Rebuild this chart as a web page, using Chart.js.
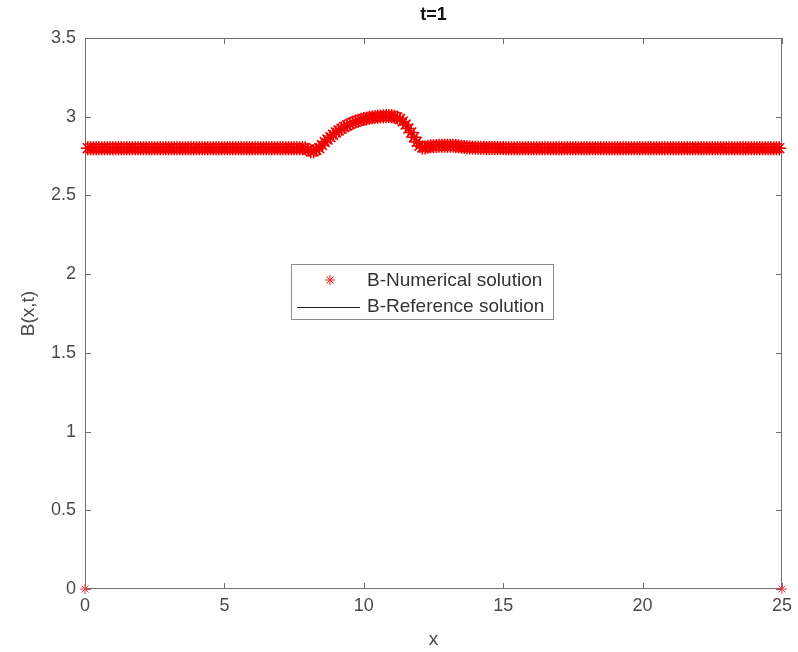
<!DOCTYPE html>
<html lang="en">
<head>
<meta charset="UTF-8">
<title>B(x,t) at t=1</title>
<style>
  html, body { margin: 0; padding: 0; background: #fff; }
  #wrap { width: 798px; height: 652px; }
</style>
</head>
<body>
<div id="wrap"><canvas id="myChart" width="798" height="652"></canvas></div>

<script src="https://cdn.jsdelivr.net/npm/chart.js"></script>
<script>
// grid spacing of the solution, x = 0 .. 25
const dx = 0.1;

// B-Numerical solution, one value per grid point (251 points)
const bNumerical = [
  0, 2.8, 2.8, 2.8, 2.8, 2.8, 2.8, 2.8, 2.8, 2.8,
  2.8, 2.8, 2.8, 2.8, 2.8, 2.8, 2.8, 2.8, 2.8, 2.8,
  2.8, 2.8, 2.8, 2.8, 2.8, 2.8, 2.8, 2.8, 2.8, 2.8,
  2.8, 2.8, 2.8, 2.8, 2.8, 2.8, 2.8, 2.8, 2.8, 2.8,
  2.8, 2.8, 2.8, 2.8, 2.8, 2.8, 2.8, 2.8, 2.8, 2.8,
  2.8, 2.8, 2.8, 2.8, 2.8, 2.8, 2.8, 2.8, 2.8, 2.8,
  2.8, 2.8, 2.8, 2.8, 2.8, 2.8, 2.8, 2.8, 2.8, 2.8,
  2.8, 2.8, 2.8, 2.8, 2.8, 2.8, 2.8, 2.8, 2.8, 2.8,
  2.79, 2.78, 2.78, 2.79, 2.80, 2.82, 2.84, 2.855, 2.87, 2.885,
  2.90, 2.912, 2.924, 2.935, 2.945, 2.954, 2.962, 2.969, 2.975, 2.98,
  2.985, 2.989, 2.993, 2.996, 2.998, 3.0, 3.002, 3.003, 3.004, 3.004,
  3.003, 3.0, 2.995, 2.985, 2.97, 2.95, 2.925, 2.9, 2.87, 2.84,
  2.815, 2.805, 2.805, 2.81, 2.812, 2.813, 2.814, 2.815, 2.815, 2.816,
  2.816, 2.816, 2.815, 2.814, 2.812, 2.81, 2.808, 2.806, 2.805, 2.804,
  2.803, 2.803, 2.803, 2.803, 2.802, 2.802, 2.802, 2.802, 2.801, 2.801,
  2.801, 2.8, 2.8, 2.8, 2.8, 2.8, 2.8, 2.8, 2.8, 2.8,
  2.8, 2.8, 2.8, 2.8, 2.8, 2.8, 2.8, 2.8, 2.8, 2.8,
  2.8, 2.8, 2.8, 2.8, 2.8, 2.8, 2.8, 2.8, 2.8, 2.8,
  2.8, 2.8, 2.8, 2.8, 2.8, 2.8, 2.8, 2.8, 2.8, 2.8,
  2.8, 2.8, 2.8, 2.8, 2.8, 2.8, 2.8, 2.8, 2.8, 2.8,
  2.8, 2.8, 2.8, 2.8, 2.8, 2.8, 2.8, 2.8, 2.8, 2.8,
  2.8, 2.8, 2.8, 2.8, 2.8, 2.8, 2.8, 2.8, 2.8, 2.8,
  2.8, 2.8, 2.8, 2.8, 2.8, 2.8, 2.8, 2.8, 2.8, 2.8,
  2.8, 2.8, 2.8, 2.8, 2.8, 2.8, 2.8, 2.8, 2.8, 2.8,
  2.8, 2.8, 2.8, 2.8, 2.8, 2.8, 2.8, 2.8, 2.8, 2.8,
  0
];

// B-Reference solution (hidden under the markers), same grid without the end points
const bReference = bNumerical.slice(1, -1);

const xTicks = [0, 5, 10, 15, 20, 25];
const yTicks = [0, 0.5, 1, 1.5, 2, 2.5, 3, 3.5];

const numPoints = bNumerical.map((b, i) => ({ x: i * dx, y: b }));
const refPoints = bReference.map((b, i) => ({ x: (i + 1) * dx, y: b }));

const FONT = '"Liberation Sans", Arial, Helvetica, sans-serif';
const AXIS_COLOR = '#6e6e6e';
const TEXT_COLOR = '#4a4a4a';

// matlab style box, inward ticks, title, axis labels and legend
const matlabFrame = {
  id: 'matlabFrame',
  beforeDatasetsDraw(chart) {
    const c = chart.ctx;
    const a = chart.chartArea;
    const xs = chart.scales.x, ys = chart.scales.y;
    c.save();
    c.strokeStyle = AXIS_COLOR;
    c.lineWidth = 1;
    c.strokeRect(a.left + 0.5, a.top + 0.5, a.right - a.left - 1, a.bottom - a.top - 1);
    c.beginPath();
    const t = 6;
    xTicks.forEach(v => {
      const px = Math.round(xs.getPixelForValue(v)) + 0.5;
      c.moveTo(px, a.bottom); c.lineTo(px, a.bottom - t);
      c.moveTo(px, a.top); c.lineTo(px, a.top + t);
    });
    yTicks.forEach(v => {
      const py = Math.round(ys.getPixelForValue(v)) + 0.5;
      c.moveTo(a.left, py); c.lineTo(a.left + t, py);
      c.moveTo(a.right, py); c.lineTo(a.right - t, py);
    });
    c.stroke();
    c.restore();
  },
  afterDraw(chart) {
    const c = chart.ctx;
    const a = chart.chartArea;
    c.save();
    // title
    const cx = (a.left + a.right) / 2;
    c.fillStyle = '#111';
    c.font = 'bold 18px ' + FONT;
    c.textAlign = 'center';
    c.textBaseline = 'middle';
    c.fillText('t=1', cx, 15);

    // axis labels
    c.fillStyle = TEXT_COLOR;
    c.font = '19px ' + FONT;
    c.fillText('x', cx, 640);
    c.save();
    c.translate(29, (a.top + a.bottom) / 2);
    c.rotate(-Math.PI / 2);
    c.fillText('B(x,t)', 0, 0);
    c.restore();

    // legend
    const L = { x: 291, y: 264, w: 262, h: 55 };
    c.fillStyle = '#fff';
    c.fillRect(L.x, L.y, L.w, L.h);
    c.strokeStyle = '#8a8a8a';
    c.lineWidth = 1;
    c.strokeRect(L.x + 0.5, L.y + 0.5, L.w, L.h);
    c.beginPath();
    c.rect(L.x + 1, L.y + 1, L.w - 2, L.h - 2);
    c.clip();
    // star marker
    c.strokeStyle = '#ff1a1a';
    const sx = 330, sy = 280, r = 5;
    c.beginPath();
    for (let k = 0; k < 4; k++) {
      const ang = k * Math.PI / 4;
      c.moveTo(sx - r * Math.cos(ang), sy - r * Math.sin(ang));
      c.lineTo(sx + r * Math.cos(ang), sy + r * Math.sin(ang));
    }
    c.stroke();
    // line sample
    c.strokeStyle = '#222';
    c.beginPath();
    c.moveTo(297, 307.5); c.lineTo(360, 307.5);
    c.stroke();
    c.fillStyle = '#333';
    c.font = '19px ' + FONT;
    c.textAlign = 'left';
    c.fillText('B-Numerical solution', 367, 281);
    c.fillText('B-Reference solution', 367, 307);
    c.restore();
  }
};

const ctx = document.getElementById('myChart');

const chartConfig = {
  type: 'scatter',
  data: {
    datasets: [
      {
        label: 'B-Numerical solution',
        data: numPoints,
        showLine: false,
        clip: false,
        pointStyle: 'star',
        // the lone boundary markers look thinner than the dense band
        pointRadius: c => (c.raw && c.raw.y === 0 ? 5 : 7),
        pointBorderWidth: c => (c.raw && c.raw.y === 0 ? 1 : 1.6),
        borderColor: c => (c.raw && c.raw.y === 0 ? '#f23a4a' : '#f00000'),
        backgroundColor: '#f00000',
        pointHoverRadius: 7
      },
      {
        label: 'B-Reference solution',
        data: refPoints,
        showLine: true,
        borderColor: '#000',
        borderWidth: 1,
        pointRadius: 0
      }
    ]
  },
  options: {
    responsive: false,
    animation: false,
    devicePixelRatio: 1,
    layout: { padding: { top: 38, right: 14, left: 0, bottom: 0 } },
    plugins: {
      legend: { display: false },
      tooltip: { enabled: false }
    },
    scales: {
      x: {
        type: 'linear',
        min: 0,
        max: 25,
        afterBuildTicks: s => { s.ticks = xTicks.map(v => ({ value: v })); },
        afterFit: s => { s.height = 63; },
        grid: { display: false, drawTicks: false },
        border: { display: false },
        ticks: { color: TEXT_COLOR, font: { family: FONT, size: 18 }, padding: 6, maxRotation: 0,
                 callback: v => String(v) }
      },
      y: {
        type: 'linear',
        min: 0,
        max: 3.5,
        afterBuildTicks: s => { s.ticks = yTicks.map(v => ({ value: v })); },
        afterFit: s => { s.width = 85; },
        grid: { display: false, drawTicks: false },
        border: { display: false },
        ticks: { color: TEXT_COLOR, font: { family: FONT, size: 18 }, padding: 9,
                 callback: v => String(v) }
      }
    }
  },
  plugins: [matlabFrame]
};

const myChart = new Chart(ctx, chartConfig);
</script>
</body>
</html>
